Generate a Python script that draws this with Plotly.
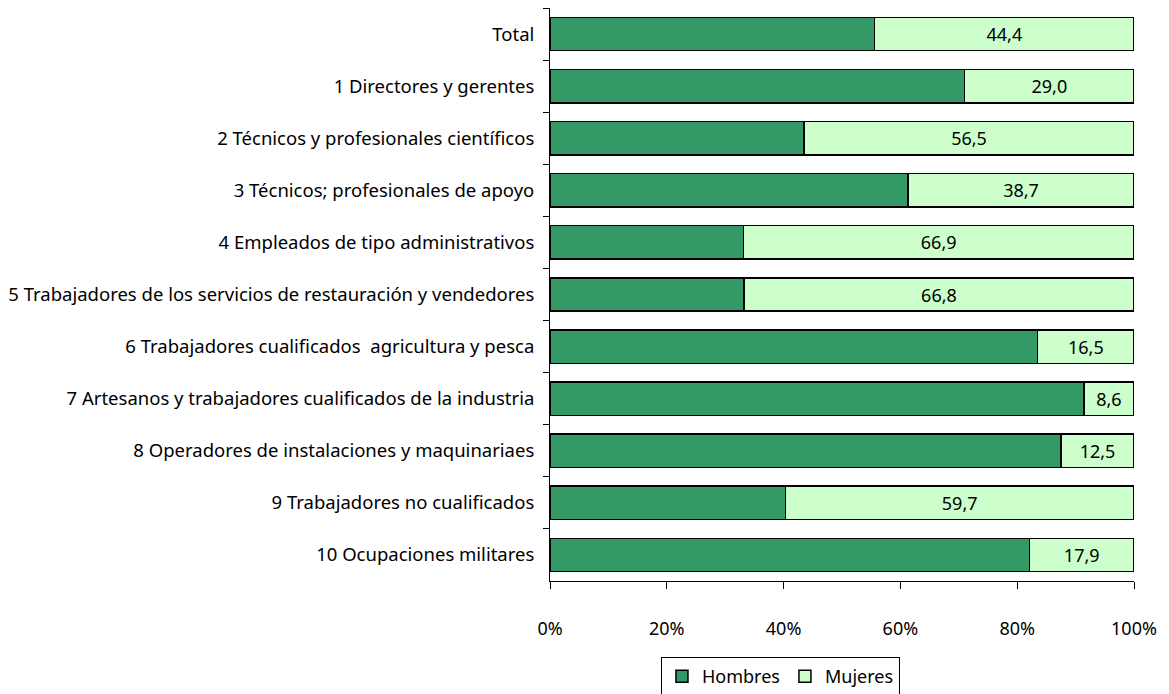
import plotly.graph_objects as go

categories = [
    "Total",
    "1 Directores y gerentes",
    "2 Técnicos y profesionales científicos",
    "3 Técnicos; profesionales de apoyo",
    "4 Empleados de tipo administrativos",
    "5 Trabajadores de los servicios de restauración y vendedores",
    "6 Trabajadores cualificados  agricultura y pesca",
    "7 Artesanos y trabajadores cualificados de la industria",
    "8 Operadores de instalaciones y maquinariaes",
    "9 Trabajadores no cualificados",
    "10 Ocupaciones militares",
]
mujeres = [44.4, 29.0, 56.5, 38.7, 66.9, 66.8, 16.5, 8.6, 12.5, 59.7, 17.9]
hombres = [55.6, 71.0, 43.5, 61.3, 33.1, 33.2, 83.5, 91.4, 87.5, 40.3, 82.1]
x_ticks = [0, 20, 40, 60, 80, 100]
x_tick_labels = ["0%", "20%", "40%", "60%", "80%", "100%"]

FONT = "Noto Sans"
FS = 18

fig = go.Figure()
fig.add_trace(go.Bar(
    y=categories, x=hombres, orientation="h", name="Hombres",
    marker=dict(color="#339966", line=dict(color="black", width=1.5)),
))
fig.add_trace(go.Bar(
    y=categories, x=mujeres, orientation="h", name="Mujeres",
    marker=dict(color="#CCFFCC", line=dict(color="black", width=1.5)),
    texttemplate="%{x:.1f}", textposition="inside", insidetextanchor="middle",
    textfont=dict(color="black", size=FS, family=FONT),
))

fig.update_layout(
    barmode="stack",
    bargap=0.36,
    separators=",.",
    width=1153, height=686,
    margin=dict(l=542, r=27, t=0, b=113, autoexpand=False),
    paper_bgcolor="white", plot_bgcolor="white",
    font=dict(family=FONT, size=FS, color="black"),
    legend=dict(
        orientation="h", x=0.19, y=-0.1326, xanchor="left", yanchor="top",
        bordercolor="black", borderwidth=1, font=dict(size=FS, family=FONT),
        traceorder="normal", itemwidth=30,
    ),
    showlegend=True,
)
fig.update_xaxes(
    range=[0, 100], tickvals=x_ticks, ticktext=x_tick_labels,
    ticks="outside", ticklen=7, tickcolor="black",
    showline=True, linecolor="black", linewidth=1,
    showgrid=False, zeroline=False, ticklabelstandoff=24,
)
fig.update_yaxes(
    autorange="reversed", categoryorder="array", categoryarray=categories,
    ticks="outside", ticklen=6, tickson="boundaries", tickcolor="black",
    showline=True, linecolor="black", linewidth=1, showgrid=False,
    ticklabelstandoff=11, tickfont=dict(size=18.5),
)
fig.write_html("out.html")
